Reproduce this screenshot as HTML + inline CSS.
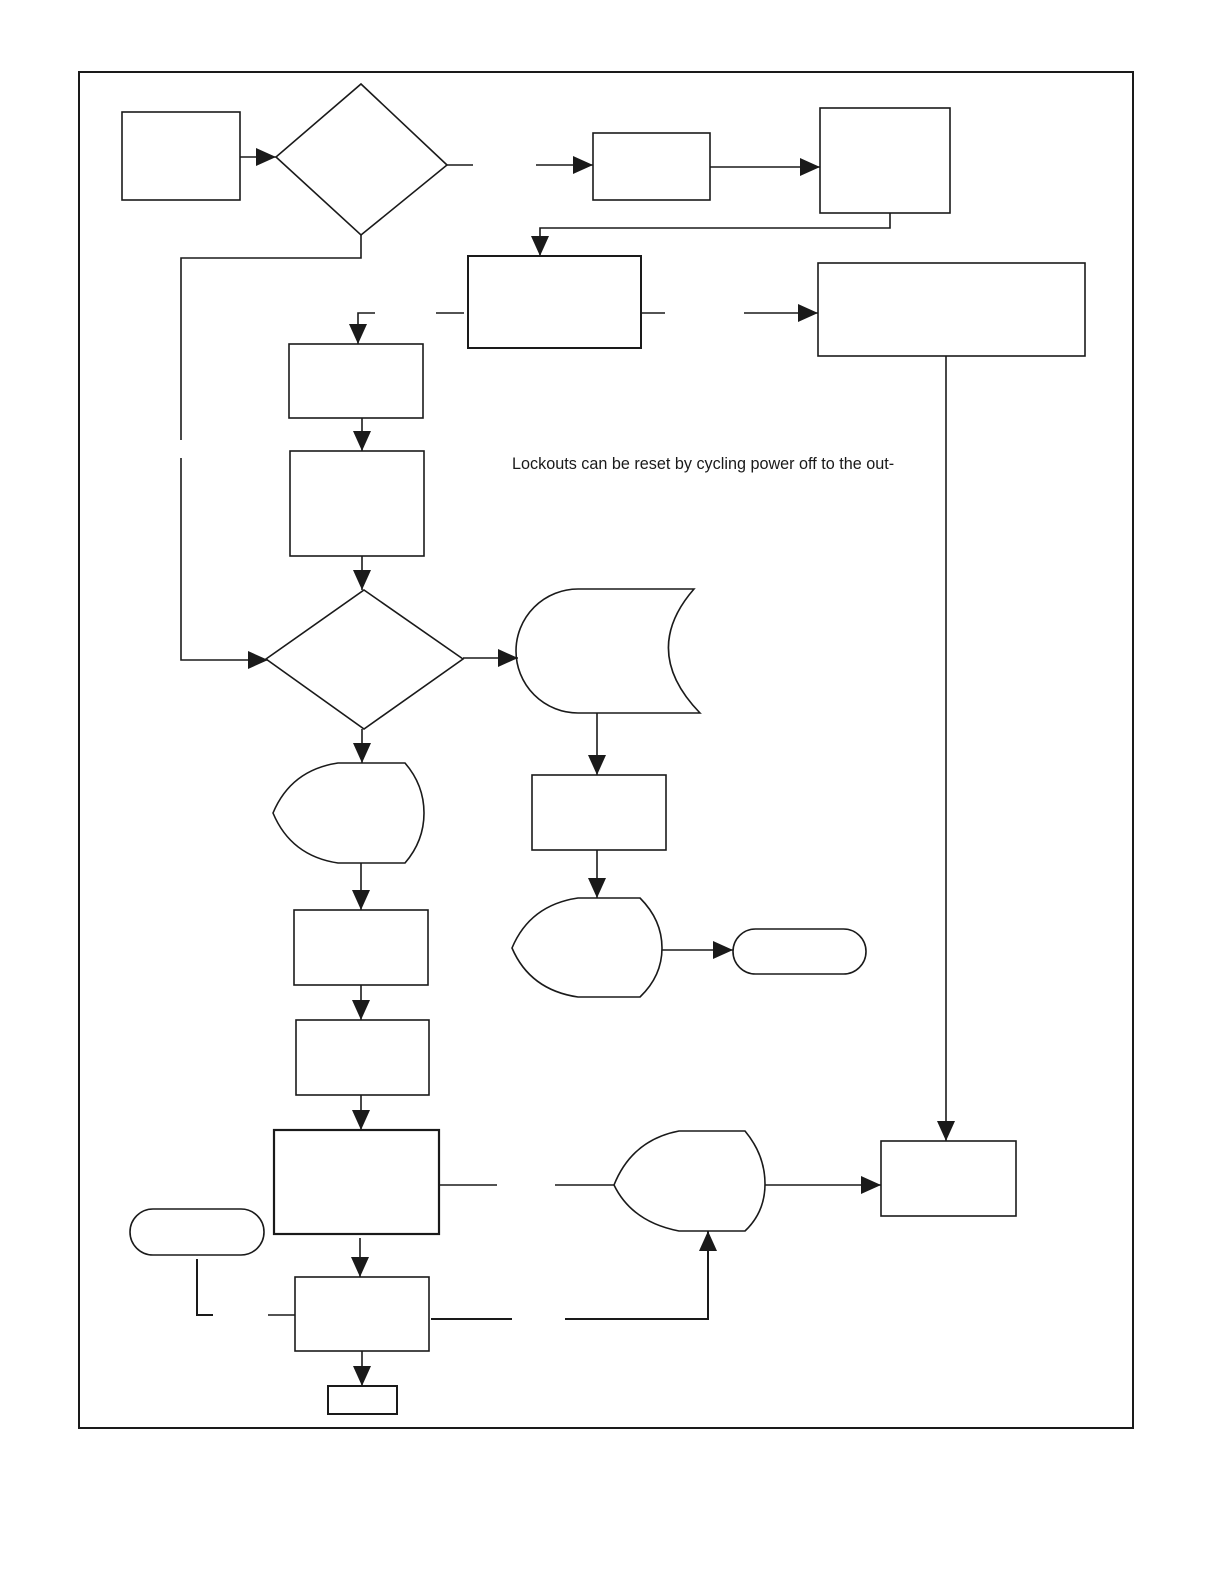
<!DOCTYPE html>
<html><head><meta charset="utf-8"><style>html,body{margin:0;padding:0;background:#fff}svg{display:block}</style></head><body>
<svg width="1224" height="1584" viewBox="0 0 1224 1584" xmlns="http://www.w3.org/2000/svg">
<defs><marker id="a" markerUnits="userSpaceOnUse" markerWidth="20" markerHeight="18" refX="20" refY="9" orient="auto"><path d="M0,0 L20,9 L0,18 Z" fill="#1a1a1a"/></marker></defs>
<g fill="none" stroke="#1a1a1a" stroke-width="1.6">
<rect x="79" y="72" width="1054" height="1356" stroke-width="2"/>
<rect x="122" y="112" width="118" height="88"/>
<polygon points="361,84 447,165 361,235 276,157"/>
<line x1="240" y1="157" x2="276" y2="157" marker-end="url(#a)"/>
<line x1="447" y1="165" x2="473" y2="165"/>
<line x1="536" y1="165" x2="593" y2="165" marker-end="url(#a)"/>
<rect x="593" y="133" width="117" height="67"/>
<line x1="710" y1="167" x2="820" y2="167" marker-end="url(#a)"/>
<rect x="820" y="108" width="130" height="105"/>
<polyline points="890,213 890,228 540,228 540,256" marker-end="url(#a)"/>
<rect x="468" y="256" width="173" height="92" stroke-width="2"/>
<line x1="641" y1="313" x2="665" y2="313"/>
<line x1="744" y1="313" x2="818" y2="313" marker-end="url(#a)"/>
<rect x="818" y="263" width="267" height="93"/>
<line x1="946" y1="356" x2="946" y2="1141" marker-end="url(#a)"/>
<line x1="436" y1="313" x2="464" y2="313"/>
<polyline points="375,313 358,313 358,344" marker-end="url(#a)"/>
<polyline points="361,235 361,258 181,258 181,440"/>
<polyline points="181,458 181,660 268,660" marker-end="url(#a)"/>
<rect x="289" y="344" width="134" height="74"/>
<line x1="362" y1="418" x2="362" y2="451" marker-end="url(#a)"/>
<rect x="290" y="451" width="134" height="105"/>
<line x1="362" y1="556" x2="362" y2="590" marker-end="url(#a)"/>
<polygon points="364,590 463,659 364,729 266,659"/>
<line x1="463" y1="658" x2="518" y2="658" marker-end="url(#a)"/>
<path d="M578,589 L694,589 Q640,651 700,713 L578,713 A62,62 0 0 1 578,589 Z"/>
<line x1="597" y1="713" x2="597" y2="775" marker-end="url(#a)"/>
<rect x="532" y="775" width="134" height="75"/>
<line x1="597" y1="850" x2="597" y2="898" marker-end="url(#a)"/>
<path d="M512,948 Q530,905 578,898 L640,898 Q662,920 662,948 Q662,976 640,997 L578,997 Q530,990 512,948 Z"/>
<line x1="662" y1="950" x2="733" y2="950" marker-end="url(#a)"/>
<rect x="733" y="929" width="133" height="45" rx="22.5"/>
<line x1="362" y1="729" x2="362" y2="763" marker-end="url(#a)"/>
<path d="M273,813 Q291,770 338,763 L405,763 Q424,785 424,813 Q424,841 405,863 L338,863 Q291,856 273,813 Z"/>
<line x1="361" y1="863" x2="361" y2="910" marker-end="url(#a)"/>
<rect x="294" y="910" width="134" height="75"/>
<line x1="361" y1="985" x2="361" y2="1020" marker-end="url(#a)"/>
<rect x="296" y="1020" width="133" height="75"/>
<line x1="361" y1="1095" x2="361" y2="1130" marker-end="url(#a)"/>
<rect x="274" y="1130" width="165" height="104" stroke-width="2.2"/>
<line x1="439" y1="1185" x2="497" y2="1185"/>
<line x1="555" y1="1185" x2="614" y2="1185"/>
<path d="M614,1185 Q632,1140 679,1131 L745,1131 Q765,1155 765,1184 Q765,1212 745,1231 L679,1231 Q632,1222 614,1185 Z"/>
<line x1="765" y1="1185" x2="881" y2="1185" marker-end="url(#a)"/>
<rect x="881" y="1141" width="135" height="75"/>
<line x1="360" y1="1238" x2="360" y2="1277" marker-end="url(#a)"/>
<rect x="295" y="1277" width="134" height="74"/>
<rect x="130" y="1209" width="134" height="46" rx="23"/>
<polyline points="197,1259 197,1315 213,1315" stroke-width="2"/>
<line x1="268" y1="1315" x2="295" y2="1315"/>
<line x1="431" y1="1319" x2="512" y2="1319" stroke-width="2"/>
<polyline points="565,1319 708,1319 708,1231" stroke-width="2" marker-end="url(#a)"/>
<line x1="362" y1="1351" x2="362" y2="1386" marker-end="url(#a)"/>
<rect x="328" y="1386" width="69" height="28" stroke-width="2"/>
</g>
<text x="512" y="469" font-family="Liberation Sans, sans-serif" font-size="16.2" fill="#1a1a1a">Lockouts can be reset by cycling power off to the out-</text>
</svg>
</body></html>
